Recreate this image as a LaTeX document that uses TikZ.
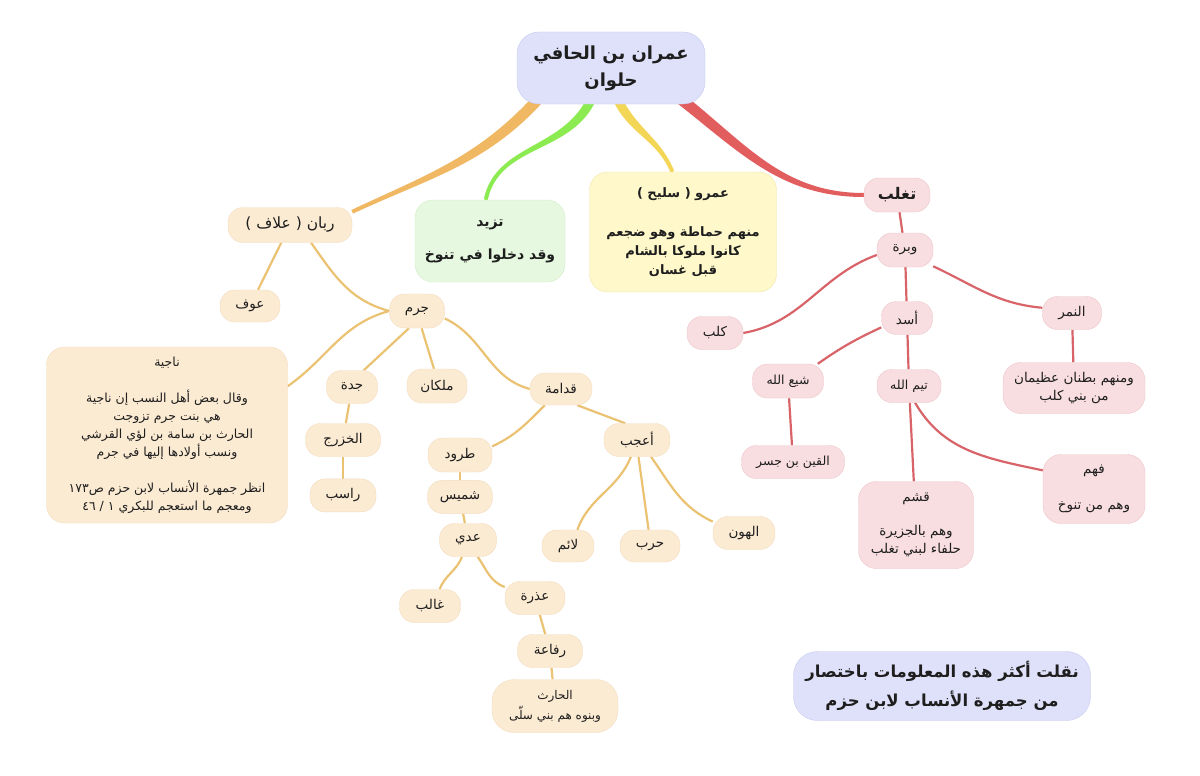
\documentclass[tikz,border=0pt]{standalone}
\usepackage{fontspec}
\newfontfamily\arabicfont[Script=Arabic]{DejaVu Sans}
\TeXXeTstate=1
\usepackage{tikz}
\usetikzlibrary{positioning,calc,backgrounds}
\definecolor{ink}{HTML}{1E1E1E}
\definecolor{lavpale}{HTML}{DFE1FA}
\definecolor{lavline}{HTML}{C6CAEE}
\definecolor{peachpale}{HTML}{FCEBD3}
\definecolor{peachline}{HTML}{F3DDBF}
\definecolor{rosepale}{HTML}{F9DEE1}
\definecolor{roseline}{HTML}{EDC6CA}
\definecolor{greenpale}{HTML}{E6F8DF}
\definecolor{greenline}{HTML}{D3EDC9}
\definecolor{yellowpale}{HTML}{FEF8CA}
\definecolor{yellowline}{HTML}{F1E7A9}
\definecolor{orangeedge}{HTML}{EAC272}
\definecolor{rededge}{HTML}{D8646A}
\definecolor{orangebranch}{HTML}{F1B863}
\definecolor{greenbranch}{HTML}{8DEB52}
\definecolor{yellowbranch}{HTML}{F4D657}
\definecolor{redbranch}{HTML}{E25D5E}
\newcommand{\rl}[1]{\beginR #1\endR}
% tapered branch: colour, from, to, out, in, width at start, width at end
\newcommand{\taper}[7]{%
 \fill[#1] ($(#2)+(#4+90:#6)$) to[out=#4,in=#5] ($(#3)+(#5-90:#7)$)
   -- ($(#3)+(#5+90:#7)$) to[out=#5,in=#4] ($(#2)+(#4-90:#6)$) -- cycle;}

\begin{document}
\begin{tikzpicture}[x=1pt,y=1pt,
 pill/.style={rounded corners=15pt,align=center,inner xsep=8pt,text=ink,
   font=\arabicfont\fontsize{13.5}{17}\selectfont},
 peach/.style={pill,fill=peachpale,draw=peachline},
 rose/.style={pill,fill=rosepale,draw=roseline},
 card/.style={rounded corners=18pt,align=center,text=ink,
   font=\arabicfont\fontsize{13.5}{18}\selectfont},
 headline/.style={font=\arabicfont\bfseries\fontsize{14}{19}\selectfont},
 olink/.style={draw=orangeedge,line width=2.2pt},
 rlink/.style={draw=rededge,line width=2.2pt}]
 \useasboundingbox (0,0) rectangle (1200,-776);

 \node[card,fill=lavpale,draw=lavline,minimum width=188,minimum height=72,rounded corners=22pt,
   font=\arabicfont\bfseries\fontsize{18}{27}\selectfont] (root) at (611,-68)
   {\rl{عمران بن الحافي}\\\rl{حلوان}};

 % first level
 \node[peach,minimum width=124,minimum height=35,font=\arabicfont\fontsize{15.5}{18}\selectfont] (rabban) at (290,-225)
   {\rl{ربان ( علاف )}};
 \node[card,headline,fill=greenpale,draw=greenline,minimum width=150,minimum height=82] (tazid) at (490,-241)
   {\rl{تزيد}\\[14pt]\rl{وقد دخلوا في تنوخ}};
 \node[card,headline,fill=yellowpale,draw=yellowline,minimum width=187,minimum height=120,
   font=\arabicfont\bfseries\fontsize{13}{19}\selectfont] (amr) at (683,-232)
   {\rl{عمرو ( سليح )}\\[20pt]\rl{منهم حماطة وهو ضجعم}\\\rl{كانوا ملوكا بالشام}\\\rl{قبل غسان}};
 \node[rose,headline,minimum width=66,minimum height=34,font=\arabicfont\bfseries\fontsize{16}{19}\selectfont] (taghlib) at (897,-195) {\rl{تغلب}};

 % Rabban
 \node[peach,minimum width=60,minimum height=32] (awf) at (250,-306) {\rl{عوف}};
 \node[peach,minimum width=55,minimum height=34] (jarm) at (417,-311) {\rl{جرم}};
 \node[card,fill=peachpale,draw=peachline,minimum width=241,minimum height=176,
   font=\arabicfont\fontsize{12.5}{18}\selectfont] (najiya) at (167,-435)
   {\rl{ناجية}\\[18pt]\rl{وقال بعض أهل النسب إن ناجية}\\\rl{هي بنت جرم تزوجت}\\
    \rl{الحارث بن سامة بن لؤي القرشي}\\\rl{ونسب أولادها إليها في جرم}\\[18pt]
    \rl{انظر جمهرة الأنساب لابن حزم ص١٧٣}\\\rl{ومعجم ما استعجم للبكري ١ / ٤٦}};
 \node[peach,minimum width=51,minimum height=33] (jadda) at (352,-387) {\rl{جدة}};
 \node[peach,minimum width=60,minimum height=34] (malkan) at (437,-386) {\rl{ملكان}};
 \node[peach,minimum width=62,minimum height=32] (qudama) at (561,-389) {\rl{قدامة}};
 \node[peach,minimum width=75,minimum height=33] (khazraj) at (343,-440) {\rl{الخزرج}};
 \node[peach,minimum width=66,minimum height=33,below=22pt of khazraj] (rasib) {\rl{راسب}};
 \node[peach,minimum width=64,minimum height=34] (turud) at (460,-455) {\rl{طرود}};
 \node[peach,minimum width=65,minimum height=33,below=8pt of turud] (shumays) {\rl{شميس}};
 \node[peach,minimum width=57,minimum height=33] (adi) at (468,-540) {\rl{عدي}};
 \node[peach,minimum width=61,minimum height=33] (ghalib) at (430,-606) {\rl{غالب}};
 \node[peach,minimum width=60,minimum height=33] (udhra) at (535,-598) {\rl{عذرة}};
 \node[peach,minimum width=65,minimum height=33] (rifaa) at (550,-651) {\rl{رفاعة}};
 \node[card,fill=peachpale,draw=peachline,minimum width=126,minimum height=53,rounded corners=22pt,
   font=\arabicfont\fontsize{12}{20}\selectfont] (harith) at (555,-706)
   {\rl{الحارث}\\\rl{وبنوه هم بني سلّى}};
 \node[peach,minimum width=66,minimum height=33] (aajab) at (637,-440) {\rl{أعجب}};
 \node[peach,minimum width=52,minimum height=32] (laim) at (568,-546) {\rl{لائم}};
 \node[peach,minimum width=60,minimum height=32] (harb) at (650,-546) {\rl{حرب}};
 \node[peach,minimum width=62,minimum height=33] (hawn) at (744,-533) {\rl{الهون}};

 % Taghlib
 \node[rose,minimum width=56,minimum height=34] (wabra) at (905,-250) {\rl{وبرة}};
 \node[rose,minimum width=56,minimum height=33] (kalb) at (715,-333) {\rl{كلب}};
 \node[rose,minimum width=51,minimum height=33] (asad) at (907,-318) {\rl{أسد}};
 \node[rose,minimum width=59,minimum height=33] (namir) at (1072,-313) {\rl{النمر}};
 \node[card,fill=rosepale,draw=roseline,minimum width=142,minimum height=51] (batnan) at (1074,-388)
   {\rl{ومنهم بطنان عظيمان}\\\rl{من بني كلب}};
 \node[rose,minimum width=71,minimum height=34,font=\arabicfont\fontsize{12.5}{17}\selectfont] (shay) at (788,-381) {\rl{شيع الله}};
 \node[rose,minimum width=64,minimum height=33,font=\arabicfont\fontsize{12.5}{17}\selectfont] (taym) at (909,-386) {\rl{تيم الله}};
 \node[rose,minimum width=103,minimum height=33,font=\arabicfont\fontsize{12.5}{17}\selectfont] (qayn) at (793,-462) {\rl{القين بن جسر}};
 \node[card,fill=rosepale,draw=roseline,minimum width=115,minimum height=87] (qashm) at (916,-525)
   {\rl{قشم}\\[16pt]\rl{وهم بالجزيرة}\\\rl{حلفاء لبني تغلب}};
 \node[card,fill=rosepale,draw=roseline,minimum width=102,minimum height=69] (fahm) at (1094,-489)
   {\rl{فهم}\\[18pt]\rl{وهم من تنوخ}};

 \node[card,fill=lavpale,draw=lavline,minimum width=297,minimum height=69,rounded corners=24pt,
   font=\arabicfont\bfseries\fontsize{16.5}{29}\selectfont] (note) at (942,-686)
   {\rl{نقلت أكثر هذه المعلومات باختصار}\\\rl{من جمهرة الأنساب لابن حزم}};

 \begin{pgfonlayer}{background}
  \fill[white] (0,0) rectangle (1200,-776);
  \coordinate (ro) at ($(root.south west)+(24,8)$);
  \coordinate (rg) at ($(root.south)+(-21,2)$);
  \coordinate (ry) at ($(root.south)+(8,2)$);
  \coordinate (rr) at ($(root.south east)+(-28,8)$);
  \taper{orangebranch}{ro}{rabban.12}{-132}{25}{5.5}{2}
  \taper{greenbranch}{rg}{tazid.96}{-118}{78}{4.5}{2}
  \taper{yellowbranch}{ry}{amr.100}{-62}{112}{4.5}{2}
  \taper{redbranch}{rr}{taghlib.west}{-38}{180}{5.5}{2}
  \foreach \a/\b in {rabban/awf,jadda/khazraj,khazraj/rasib,turud/shumays,shumays/adi,
    udhra/rifaa,rifaa/harith,jarm.-75/malkan.100,qudama.-45/aajab.125,aajab.-85/harb.95,
    jarm.-115/jadda.55}
   \draw[olink] (\a)--(\b);
  \foreach \a/\b/\o/\i in {rabban.-40/jarm.west/-55/165,jarm.west/najiya.22/195/35,
    jarm.-15/qudama.west/-25/165,qudama.-135/turud.15/-135/25,
    adi.-110/ghalib.60/-110/70,adi.-60/udhra.160/-55/160,aajab.-110/laim.60/-112/70,
    aajab.-50/hawn.160/-55/155}
   \draw[olink] (\a) to[out=\o,in=\i] (\b);
  \foreach \a/\b in {taghlib/wabra,wabra/asad,namir/batnan,asad/taym,shay/qayn,taym/qashm}
   \draw[rlink] (\a)--(\b);
  \foreach \a/\b/\o/\i in {wabra.190/kalb.east/200/10,wabra.-30/namir.170/-25/175,
    asad.200/shay.30/205/35,taym.-70/fahm.160/-60/168}
   \draw[rlink] (\a) to[out=\o,in=\i] (\b);
 \end{pgfonlayer}
\end{tikzpicture}
\end{document}
